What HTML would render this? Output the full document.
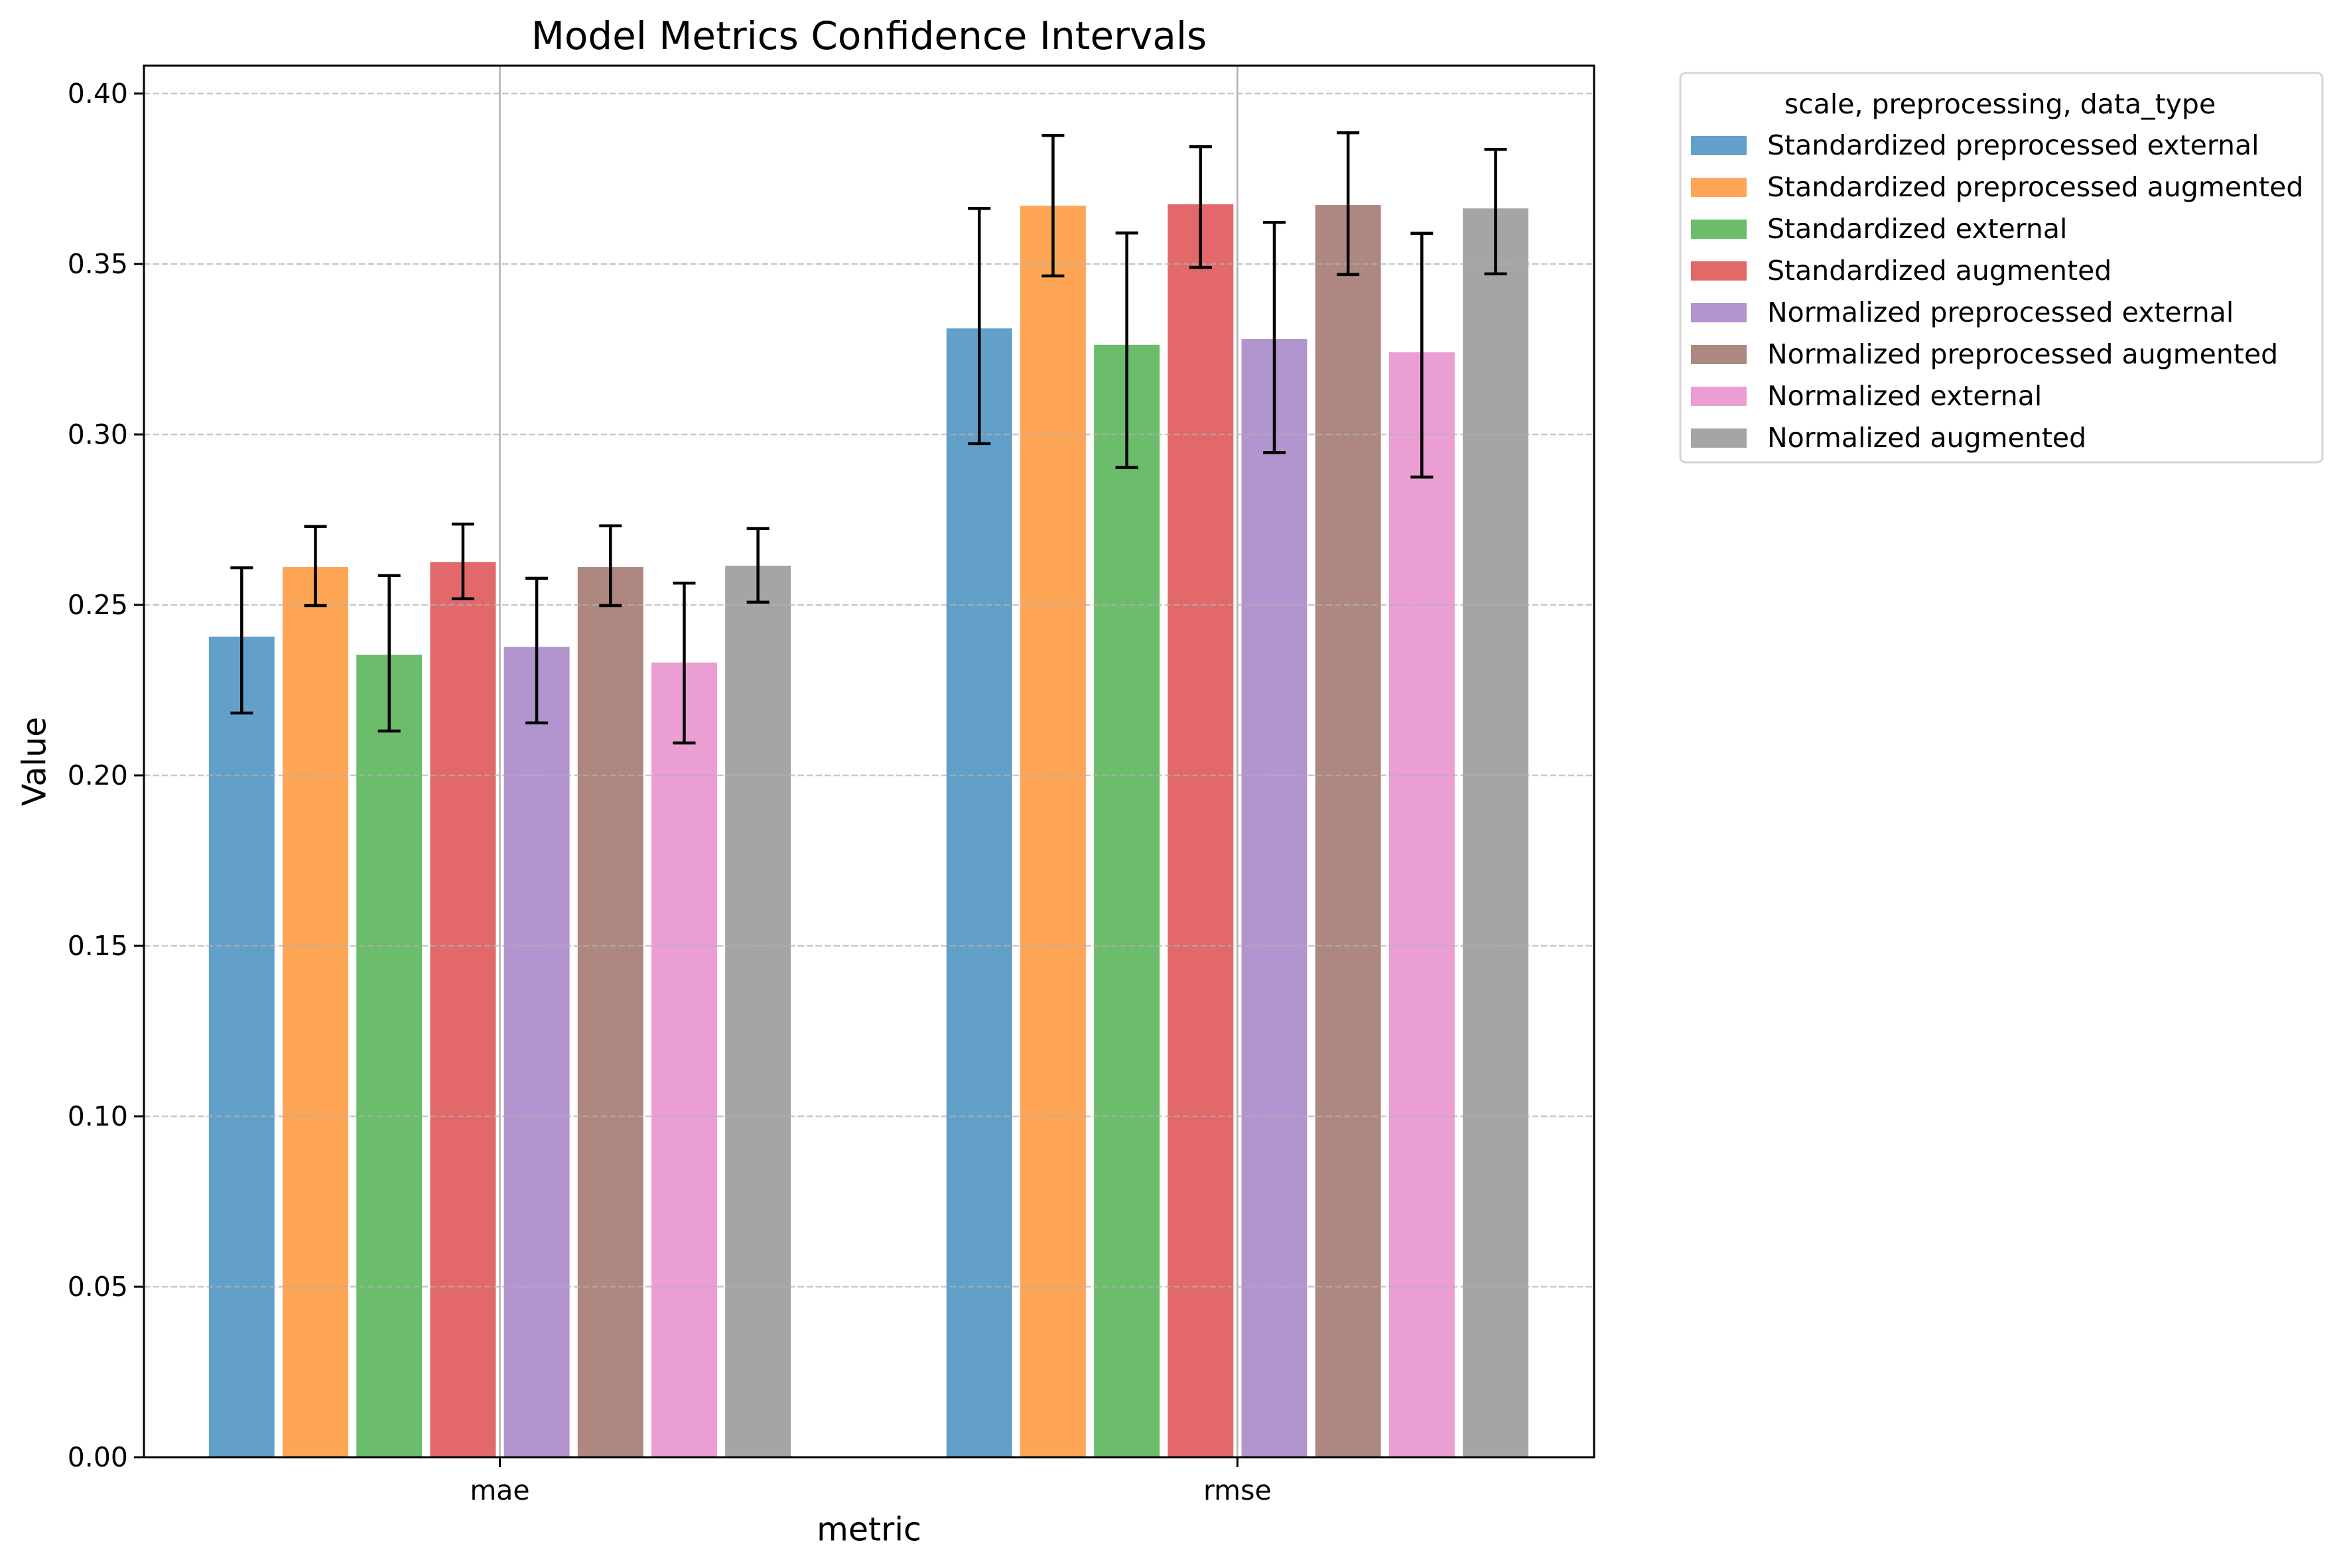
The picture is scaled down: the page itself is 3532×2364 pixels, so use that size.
<!DOCTYPE html>
<html><head><meta charset="utf-8"><style>
html,body{margin:0;padding:0;background:#fff;}
svg{display:block;font-family:"DejaVu Sans","Liberation Sans",sans-serif;}
</style></head><body>
<svg id="chart" width="3532" height="2364" viewBox="0 0 3532 2364" xmlns="http://www.w3.org/2000/svg"></svg>
<script>
const categories = ["mae", "rmse"];
const seriesNames = ["Standardized preprocessed external","Standardized preprocessed augmented","Standardized external","Standardized augmented","Normalized preprocessed external","Normalized preprocessed augmented","Normalized external","Normalized augmented"];
const maeValues = [0.2407,0.2611,0.2354,0.2626,0.2377,0.2611,0.2331,0.2615];
const maeLower = [0.2183,0.2498,0.2130,0.2518,0.2154,0.2498,0.2095,0.2508];
const maeUpper = [0.2609,0.2730,0.2586,0.2737,0.2578,0.2732,0.2564,0.2724];
const rmseValues = [0.3311,0.3671,0.3263,0.3675,0.3280,0.3673,0.3241,0.3663];
const rmseLower = [0.2973,0.3465,0.2903,0.3490,0.2947,0.3469,0.2875,0.3471];
const rmseUpper = [0.3663,0.3877,0.3591,0.3844,0.3622,0.3885,0.3590,0.3836];
const yTicks = [0.00,0.05,0.10,0.15,0.20,0.25,0.30,0.35,0.40];
const yTickLabels = ["0.00","0.05","0.10","0.15","0.20","0.25","0.30","0.35","0.40"];
const colors = ["#62a0ca","#ffa556","#6bbc6b","#e2686a","#b294cf","#ad8780","#eb9ed3","#a5a5a5"];

const NS = "http://www.w3.org/2000/svg";
const svg = document.getElementById("chart");
const L = 217, R = 2403, T = 99, B = 2197;
const yMin = 0, yMax = (B - T) / 5140;
const xMin = -0.4825, xMax = 1.4835;
function xs(v){ return L + (v - xMin) / (xMax - xMin) * (R - L); }
function ys(v){ return B - (v - yMin) / (yMax - yMin) * (B - T); }
function el(tag, attrs, parent){ const e = document.createElementNS(NS, tag); for (const k in attrs) e.setAttribute(k, attrs[k]); (parent||svg).appendChild(e); return e; }
function txt(s, attrs){ const e = el("text", attrs); e.textContent = s; return e; }

const barW = 0.089, step = 0.1;
const vals = [maeValues, rmseValues], lows = [maeLower, rmseLower], ups = [maeUpper, rmseUpper];

categories.forEach((c, ci) => {
  const g = el("line", {x1: xs(ci), x2: xs(ci), y1: T, y2: B, stroke: "#b0b0b0", "stroke-width": 2.5});
  
  
});

categories.forEach((c, ci) => {
  seriesNames.forEach((s, si) => {
    const cx = ci + (si - 3.5) * step;
    const v = vals[ci][si];
    const r = el("rect", {x: xs(cx - barW/2), y: ys(v), width: xs(cx + barW/2) - xs(cx - barW/2), height: ys(0) - ys(v), fill: colors[si]});
    
    
  });
});

yTicks.forEach((t, i) => {
  const g = el("line", {x1: L, x2: R, y1: ys(t), y2: ys(t), stroke: "#b0b0b0", "stroke-opacity": 0.7, "stroke-width": 2.5, "stroke-dasharray": "9.5,4"});
  
  
});

categories.forEach((c, ci) => {
  seriesNames.forEach((s, si) => {
    const cx = xs(ci + (si - 3.5) * step);
    const grp = el("g", {stroke: "#000", "stroke-width": 4.5});
    
    
    el("line", {x1: cx, x2: cx, y1: ys(lows[ci][si]), y2: ys(ups[ci][si])}, grp);
    el("line", {x1: cx - 17, x2: cx + 17, y1: ys(lows[ci][si]), y2: ys(lows[ci][si])}, grp);
    el("line", {x1: cx - 17, x2: cx + 17, y1: ys(ups[ci][si]), y2: ys(ups[ci][si])}, grp);
  });
});

const frame = el("rect", {x: L, y: T, width: R - L, height: B - T, fill: "none", stroke: "#000", "stroke-width": 3});



yTicks.forEach((t, i) => {
  const tk = el("line", {x1: L - 15, x2: L, y1: ys(t), y2: ys(t), stroke: "#000", "stroke-width": 3});
  
  
  const lb = txt(yTickLabels[i], {x: L - 24, y: ys(t), "font-size": 41, "text-anchor": "end", "dominant-baseline": "central", fill: "#000"});
  
  
});
categories.forEach((c, ci) => {
  const tk = el("line", {x1: xs(ci), x2: xs(ci), y1: B, y2: B + 15, stroke: "#000", "stroke-width": 3});
  
  
  const lb = txt(c, {x: xs(ci), y: B + 50, "font-size": 41, "text-anchor": "middle", "dominant-baseline": "central", fill: "#000"});
  
  
});

const title = txt("Model Metrics Confidence Intervals", {x: (L + R) / 2, y: 54, "font-size": 58, "text-anchor": "middle", "dominant-baseline": "central", fill: "#000"});


const yl = txt("Value", {x: 52, y: (T + B) / 2, "font-size": 49, "text-anchor": "middle", "dominant-baseline": "central", transform: "rotate(-90 52 " + ((T + B) / 2) + ")", fill: "#000"});


const xl = txt("metric", {x: (L + R) / 2, y: 2306, "font-size": 49, "text-anchor": "middle", "dominant-baseline": "central", fill: "#000"});



const lg = el("g", {});


el("rect", {x: 2533, y: 110, width: 968, height: 587, rx: 8, fill: "#fff", stroke: "#d5d5d5", "stroke-width": 3}, lg);
const lt = txt("scale, preprocessing, data_type", {x: 3015, y: 157, "font-size": 41, "text-anchor": "middle", "dominant-baseline": "central", fill: "#000"});


seriesNames.forEach((s, si) => {
  const y = 219 + si * 63;
  const p = el("rect", {x: 2549, y: y - 14, width: 84, height: 29, fill: colors[si]});
  
  
  const t = txt(s, {x: 2664, y: y, "font-size": 41, "dominant-baseline": "central", fill: "#000"});
  
  
});
</script>
</body></html>
